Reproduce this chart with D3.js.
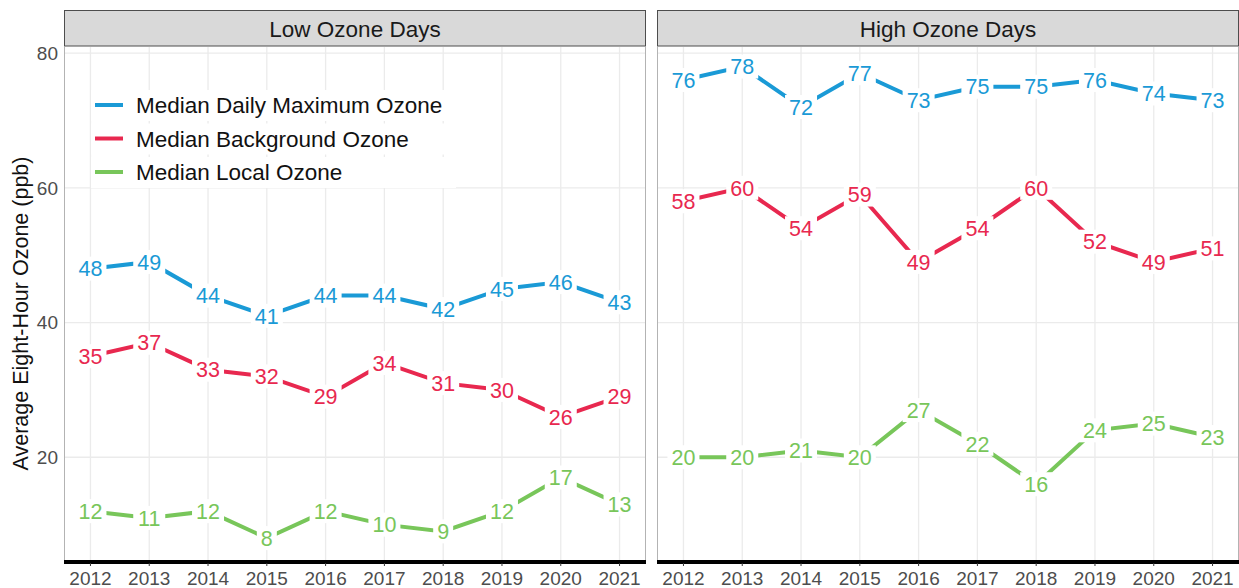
<!DOCTYPE html>
<html>
<head>
<meta charset="utf-8">
<script src="https://cdn.jsdelivr.net/npm/d3@7"></script>
<style>
  body { margin: 0; background: #fff; }
  text { font-family: "Liberation Sans", Arial, sans-serif; }
</style>
</head>
<body>
<div id="chart"></div>
<script>
// data
var years = [2012, 2013, 2014, 2015, 2016, 2017, 2018, 2019, 2020, 2021];
var panels = ["Low Ozone Days", "High Ozone Days"];
var seriesNames = ["Median Daily Maximum Ozone", "Median Background Ozone", "Median Local Ozone"];
var seriesColors = ["#1a9ad6", "#e8284f", "#78c65a"];

var lowMax   = [48, 49, 44, 41, 44, 44, 42, 45, 46, 43];
var lowBack  = [35, 37, 33, 32, 29, 34, 31, 30, 26, 29];
var lowLocal = [12, 11, 12, 8, 12, 10, 9, 12, 17, 13];
var highMax   = [76, 78, 72, 77, 73, 75, 75, 76, 74, 73];
var highBack  = [58, 60, 54, 59, 49, 54, 60, 52, 49, 51];
var highLocal = [20, 20, 21, 20, 27, 22, 16, 24, 25, 23];

var yTicks = [20, 40, 60, 80];

var panelData = [
  [lowMax, lowBack, lowLocal],
  [highMax, highBack, highLocal]
];

var width = 1239, height = 588;
var panelLeft = [64, 657], panelW = 582;
var plotTop = 47, plotBottom = 560, stripTop = 10;

var svg = d3.select("#chart").append("svg")
    .attr("width", width)
    .attr("height", height);

var y = d3.scaleLinear().domain([4.75, 80.9]).range([plotBottom, plotTop]);

// y axis title
svg.append("text")
    .attr("transform", "translate(28," + ((plotTop + plotBottom) / 2 + 10) + ") rotate(-90)")
    .attr("text-anchor", "middle")
    .style("font-size", "21.5px")
    .style("fill", "#111")
    .text("Average Eight-Hour Ozone (ppb)");

// y tick labels
svg.selectAll(".ytick")
    .data(yTicks)
  .enter().append("text")
    .attr("x", 58)
    .attr("y", function(d) { return y(d); })
    .attr("dy", "0.36em")
    .attr("text-anchor", "end")
    .style("font-size", "19px")
    .style("fill", "#4d4d4d")
    .text(function(d) { return d; });

panels.forEach(function(name, pi) {
  var x0 = panelLeft[pi];
  var x = d3.scaleLinear().domain([2011.55, 2021.45]).range([x0, x0 + panelW]);
  var g = svg.append("g");

  // strip
  g.append("rect")
      .attr("x", x0 + 0.5).attr("y", stripTop + 0.5)
      .attr("width", panelW - 1).attr("height", plotTop - stripTop - 1.5)
      .attr("fill", "#d9d9d9")
      .attr("stroke", "#4d4d4d").attr("stroke-width", 1);
  g.append("text")
      .attr("x", x0 + panelW / 2)
      .attr("y", (stripTop + plotTop) / 2)
      .attr("dy", "0.36em")
      .attr("text-anchor", "middle")
      .style("font-size", "22.5px")
      .style("fill", "#1a1a1a")
      .text(name);

  // grid
  g.selectAll(".hgrid").data(yTicks).enter().append("line")
      .attr("x1", x0).attr("x2", x0 + panelW)
      .attr("y1", function(d) { return y(d); })
      .attr("y2", function(d) { return y(d); })
      .attr("stroke", "#ebebeb").attr("stroke-width", 1.3);
  g.selectAll(".vgrid").data(years).enter().append("line")
      .attr("x1", function(d) { return x(d); })
      .attr("x2", function(d) { return x(d); })
      .attr("y1", plotTop).attr("y2", plotBottom)
      .attr("stroke", "#ebebeb").attr("stroke-width", 1.3);

  // panel side borders
  [x0 + 0.5, x0 + panelW - 0.5].forEach(function(bx) {
    g.append("line")
        .attr("x1", bx).attr("x2", bx)
        .attr("y1", plotTop).attr("y2", plotBottom)
        .attr("stroke", "#b3b3b3").attr("stroke-width", 1);
  });

  // x axis
  g.append("line")
      .attr("x1", x0).attr("x2", x0 + panelW)
      .attr("y1", plotBottom + 2).attr("y2", plotBottom + 2)
      .attr("stroke", "#000").attr("stroke-width", 4);
  g.selectAll(".xtickmark").data(years).enter().append("line")
      .attr("x1", function(d) { return x(d); })
      .attr("x2", function(d) { return x(d); })
      .attr("y1", plotBottom + 3).attr("y2", plotBottom + 6)
      .attr("stroke", "#333").attr("stroke-width", 1);
  g.selectAll(".xtick").data(years).enter().append("text")
      .attr("x", function(d) { return x(d); })
      .attr("y", 578)
      .attr("dy", "0.36em")
      .attr("text-anchor", "middle")
      .style("font-size", "19px")
      .style("fill", "#4d4d4d")
      .text(function(d) { return d; });

  // lines
  var line = d3.line()
      .x(function(d, i) { return x(years[i]); })
      .y(function(d) { return y(d); });

  panelData[pi].forEach(function(vals, si) {
    g.append("path")
        .datum(vals)
        .attr("d", line)
        .attr("fill", "none")
        .attr("stroke", seriesColors[si])
        .attr("stroke-width", 4);
  });

  // labels with white boxes
  panelData[pi].forEach(function(vals, si) {
    var lab = g.selectAll(".lab" + si).data(vals).enter().append("g")
        .attr("transform", function(d, i) { return "translate(" + x(years[i]) + "," + y(d) + ")"; });
    lab.append("rect")
        .attr("x", function(d) { return d < 10 ? -10 : -16; })
        .attr("y", -12)
        .attr("width", function(d) { return d < 10 ? 20 : 32; })
        .attr("height", 24)
        .attr("fill", "#fff");
    lab.append("text")
        .attr("text-anchor", "middle")
        .attr("dy", "0.36em")
        .style("font-size", "21.5px")
        .style("fill", seriesColors[si])
        .text(function(d) { return d; });
  });

  // legend in first panel
  if (pi === 0) {
    var leg = g.selectAll(".leg").data(seriesNames).enter().append("g")
        .attr("transform", function(d, i) { return "translate(95," + (105 + i * 33.5) + ")"; });
    leg.append("rect")
        .attr("x", -4).attr("y", -15)
        .attr("width", 365).attr("height", 31)
        .attr("fill", "#fff");
    leg.append("line")
        .attr("x1", 0).attr("x2", 28)
        .attr("stroke", function(d, i) { return seriesColors[i]; })
        .attr("stroke-width", 4);
    leg.append("text")
        .attr("x", 41)
        .attr("dy", "0.36em")
        .style("font-size", "22.5px")
        .style("fill", "#111")
        .text(function(d) { return d; });
  }
});
</script>
</body>
</html>
